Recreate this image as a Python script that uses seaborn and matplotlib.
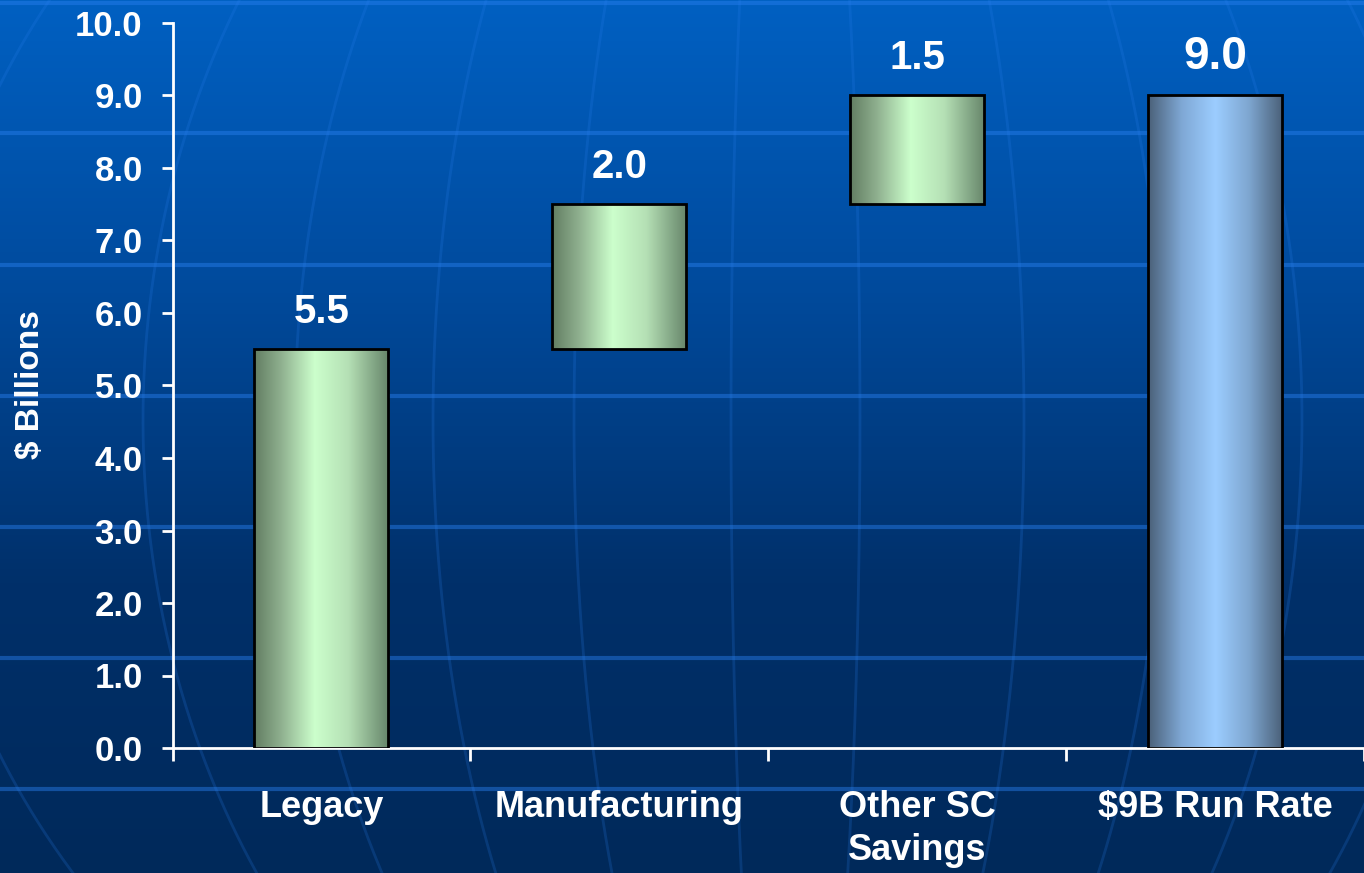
import numpy as np
import matplotlib
matplotlib.use("Agg")
import matplotlib.pyplot as plt
from matplotlib.colors import LinearSegmentedColormap
import seaborn as sns

# ---- data ----
categories = ["Legacy", "Manufacturing", "Other SC\nSavings", "$9B Run Rate"]
values = [5.5, 2.0, 1.5, 9.0]
bottoms = [0.0, 5.5, 7.5, 0.0]
is_total = [False, False, False, True]
yticks = [0, 1, 2, 3, 4, 5, 6, 7, 8, 9, 10]

tops = [b + v for b, v in zip(bottoms, values)]

sns.set_style("white")
plt.rcParams["font.family"] = ["Liberation Sans", "DejaVu Sans"]
plt.rcParams["font.weight"] = "bold"

W, H = 1364, 873
fig = plt.figure(figsize=(W / 100, H / 100), dpi=100)

# ---- background ----
bg = fig.add_axes([0, 0, 1, 1], zorder=-10)
grad = np.linspace(0, 1, 256)[:, None]
bg_cmap = LinearSegmentedColormap.from_list("bg", ["#0060c2", "#004a9c", "#00306a", "#00295a"])
bg.imshow(grad, cmap=bg_cmap, aspect="auto", extent=[0, W, H, 0])
# decorative globe grid
for yy in [3, 133, 265, 396, 527, 658, 789]:
    bg.axhline(yy, color="#2a80f0", lw=3, alpha=0.45)
cx, cy, bb = 790, 420, 800
ys = np.linspace(-10, H + 10, 300)
for a in [-870, -647, -495, -357, -216, -59, 70, 234, 374, 512, 655, 800]:
    xs = cx + a * np.sqrt(np.clip(1 - ((ys - cy) / bb) ** 2, 0, None))
    bg.plot(xs, ys, color="#2a80f0", lw=2.0, alpha=0.2)
bg.set_xlim(0, W)
bg.set_ylim(H, 0)
bg.axis("off")

# ---- main axes ----
x0px, y0px, y10px = 172.5, 748, 23
ax = fig.add_axes([x0px / W, (H - y0px) / H, (W - x0px) / W, (y0px - y10px) / H])
ax.set_facecolor("none")

sns.barplot(x=categories, y=tops, ax=ax, width=0.45, color="#ccffcc",
            edgecolor="black", linewidth=2, zorder=3)

green = LinearSegmentedColormap.from_list(
    "g", [(0, "#627d62"), (0.2, "#8fb08f"), (0.45, "#ccffcc"), (0.7, "#b5e0b5"), (1, "#66856a")])
blue = LinearSegmentedColormap.from_list(
    "b", [(0, "#4a6078"), (0.25, "#7fa8d5"), (0.5, "#9ccdff"), (0.75, "#7ea6d0"), (1, "#4a6078")])
hgrad = np.linspace(0, 1, 256)[None, :]

for p, b, v, tot in zip(ax.patches, bottoms, values, is_total):
    p.set_y(b)
    p.set_height(v)
    x = p.get_x()
    w = p.get_width()
    im = ax.imshow(hgrad, cmap=blue if tot else green, aspect="auto",
                   extent=[x, x + w, b, b + v], zorder=2.5)
    im.set_clip_path(p)
    p.set_facecolor("none")

# data labels
for i, (t, v, tot) in enumerate(zip(tops, values, is_total)):
    ax.annotate(f"{v:.1f}", xy=(i, t), xytext=(0, 19), textcoords="offset points",
                ha="center", va="baseline", color="white", fontweight="bold",
                fontsize=33 if tot else 29)

ax.set_xlim(-0.5, (W - x0px) / 299 - 0.5)
ax.set_ylim(0, 10)
ax.set_yticks(yticks)
ax.set_yticklabels([f"{t:.1f}" for t in yticks])

for s in ["top", "right"]:
    ax.spines[s].set_visible(False)
for s in ["left", "bottom"]:
    ax.spines[s].set_color("white")
    ax.spines[s].set_linewidth(2)

ax.tick_params(axis="y", left=True, direction="out", length=8, width=2, color="white",
               labelcolor="white", labelsize=25, pad=13.5)
ax.set_xticks(np.arange(len(categories)))
ax.set_xticklabels(categories, linespacing=1.3)
ax.tick_params(axis="x", which="major", bottom=True, length=0, labelcolor="white",
               labelsize=26, pad=30)
ax.set_xticks(np.arange(len(categories) + 1) - 0.5, minor=True)
ax.tick_params(axis="x", which="minor", bottom=True, direction="out", length=9,
               width=2, color="white")
for lab in ax.get_xticklabels() + ax.get_yticklabels():
    lab.set_fontweight("bold")
ax.set_xlabel("")
ax.set_ylabel("")

fig.text(31 / W, 1 - 385 / H, "$ Billions", rotation=90, ha="center", va="center",
         color="white", fontsize=24, fontweight="bold")

fig.savefig("out.png", dpi=100)
